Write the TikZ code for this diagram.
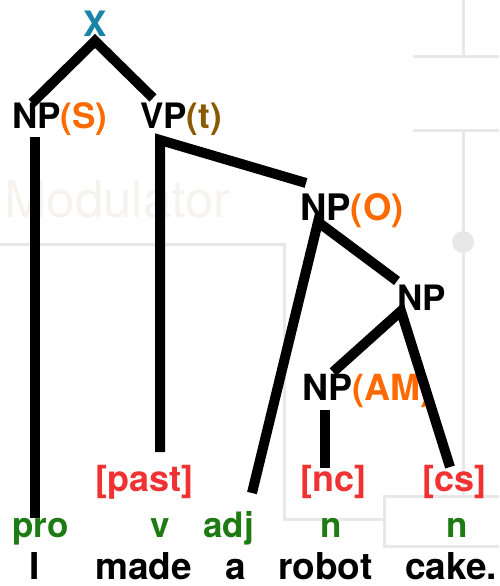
\documentclass[tikz,border=0pt]{standalone}
\usepackage{fontspec}
\setmainfont{TeX Gyre Heros}
\definecolor{xblue}{HTML}{1A84A6}
\definecolor{orng}{HTML}{FF6A00}
\definecolor{brn}{HTML}{8A5A00}
\definecolor{redl}{HTML}{F03232}
\definecolor{grn}{HTML}{1E7A12}
\definecolor{faintc}{HTML}{E8E8E8}
\definecolor{fainttxt}{HTML}{F6F3EF}
\tikzset{
  lbl/.style={anchor=base west, inner sep=0pt, font=\fontsize{35}{40}\selectfont\bfseries},
  redlbl/.style={lbl, text=redl, font=\fontsize{36}{40}\selectfont\bfseries},
  grnlbl/.style={lbl, text=grn},
  word/.style={lbl, font=\fontsize{37}{40}\selectfont\bfseries},
  conn/.style={line width=10pt, line cap=butt, line join=miter},
  faint/.style={draw=faintc, line width=3pt},
}
\begin{document}
\begin{tikzpicture}[x=1pt,y=-1pt]
\useasboundingbox (0,0) rectangle (499,586);
% faint background
\draw[faint] (463,0) -- (463,55);
\draw[faint] (413,57) -- (499,57);
\draw[faint] (413,130) -- (499,130);
\draw[faint] (463,130) -- (463,496);
\fill[faintc] (463,242) circle (11);
\draw[faint] (0,244) -- (284,244) -- (284,519) -- (385,519);
\draw[faint] (499,496) -- (384,496) -- (384,546) -- (499,546);
\node[anchor=base west, inner sep=0pt, text=fainttxt, font=\fontsize{51}{55}\selectfont] (mod) at (4,217) {Modulator};
% labels
\node[lbl, anchor=base, text=xblue] (X) at (95,37) {X};
\node[lbl] (NPS) at (12,128) {NP\textcolor{orng}{(S)}};
\node[lbl] (VPt) at (140,128) {VP\textcolor{brn}{(t)}};
\node[lbl, font=\fontsize{36.5}{40}\selectfont\bfseries] (NPO) at (300,220) {NP\textcolor{orng}{(O)}};
\node[lbl] (NP) at (397,310) {NP};
\node[lbl, font=\fontsize{36}{40}\selectfont\bfseries] (NPAM) at (302,400) {NP\textcolor{orng}{(AM)}};
\node[redlbl] (past) at (95,491) {[past]};
\node[redlbl] (nc) at (300,491) {[nc]};
\node[redlbl] (cs) at (422,491) {[cs]};
\node[grnlbl] (pro) at (12,537) {pro};
\node[grnlbl, anchor=base] (v) at (160,537) {v};
\node[grnlbl] (adj) at (203,537) {adj};
\node[grnlbl, anchor=base] (n1) at (331,537) {n};
\node[grnlbl, anchor=base] (n2) at (457,537) {n};
\node[word, anchor=base] (wI) at (35,579) {I};
\node[word] (wmade) at (95,579) {made};
\node[word] (wa) at (225,579) {a};
\node[word] (wrobot) at (278,579) {robot};
\node[word] (wcake) at (405,579) {cake.};
% connector end points
\coordinate (Xtop) at (95,41);
\coordinate (NPSin) at (32,103);
\coordinate (VPin) at (153,98);
\coordinate (NPSout) at (35,137);
\coordinate (proin) at (35,518);
\coordinate (VPout) at (160,140);
\coordinate (pastin) at (160,452);
\coordinate (NPOin) at (306,183);
\coordinate (NPOout) at (318,222);
\coordinate (adjin) at (252,493);
\coordinate (NPin) at (397,281);
\coordinate (NPout) at (401,311);
\coordinate (NPAMin) at (333,372);
\coordinate (csin) at (450,467);
\coordinate (NPAMout) at (325,410);
\coordinate (ncin) at (325,468);
% connectors
\draw[conn] (NPSin) -- (Xtop) -- (VPin);
\draw[conn] (NPSout) -- (proin);
\draw[conn] (pastin) -- (VPout) -- (NPOin);
\draw[conn] (adjin) -- (NPOout) -- (NPin);
\draw[conn] (NPAMin) -- (NPout) -- (csin);
\draw[conn] (NPAMout) -- (ncin);
\end{tikzpicture}
\end{document}
